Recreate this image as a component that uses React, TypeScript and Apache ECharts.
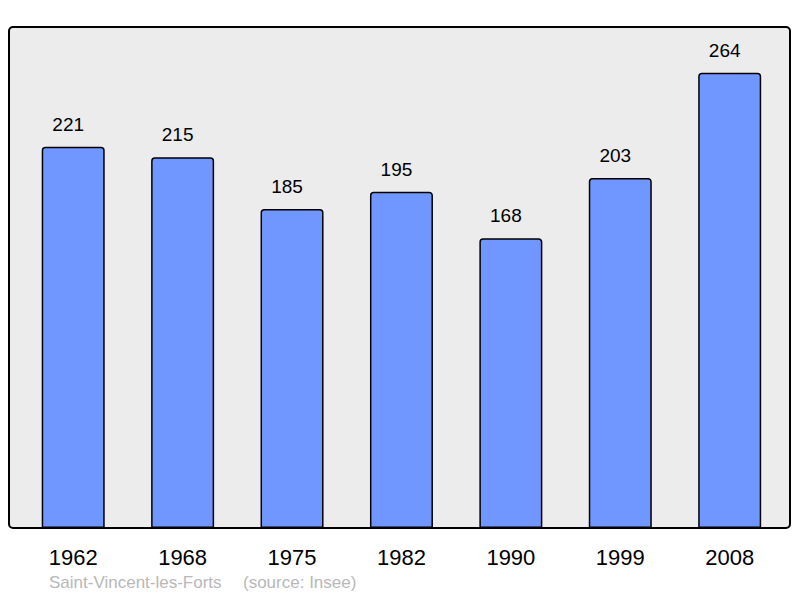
import React, { useEffect, useRef } from "react";
import * as echarts from "echarts";

const years = ["1962", "1968", "1975", "1982", "1990", "1999", "2008"];
const population = [221, 215, 185, 195, 168, 203, 264];
const footerPlace = "Saint-Vincent-les-Forts";
const footerSource = "(source: Insee)";

export default function App() {
  const ref = useRef<HTMLDivElement>(null);
  useEffect(() => {
    if (!ref.current) return;
    const chart = echarts.init(ref.current, undefined, { renderer: "svg" });
    chart.setOption({
      animation: false,
      backgroundColor: "#ffffff",
      textStyle: { fontFamily: "Liberation Sans, Arial, sans-serif" },
      grid: { left: 18.5, right: 15.6, top: 27, bottom: 70 },
      xAxis: {
        type: "category",
        data: years,
        axisLine: { show: false },
        axisTick: { show: false },
        axisLabel: { color: "#000", fontSize: 22, margin: 18 },
      },
      yAxis: {
        type: "value",
        min: 0,
        max: 290.5,
        show: false,
        splitLine: { show: false },
      },
      graphic: [
        {
          type: "rect",
          z: -10,
          shape: { x: 9, y: 27, width: 781, height: 501, r: 4 },
          style: { fill: "#ececec", stroke: "#000", lineWidth: 2 },
        },
        {
          type: "text",
          left: 49,
          top: 574,
          style: {
            text: footerPlace,
            fill: "#b8b8b8",
            font: "17px Liberation Sans, Arial, sans-serif",
          },
        },
        {
          type: "text",
          left: 243,
          top: 574,
          style: {
            text: footerSource,
            fill: "#b8b8b8",
            font: "17px Liberation Sans, Arial, sans-serif",
          },
        },
      ],
      series: [
        {
          type: "bar",
          data: population,
          barWidth: 63,
          z: 2,
          itemStyle: {
            color: "#7097ff",
            borderColor: "#000",
            borderWidth: 1.5,
            borderRadius: [3, 3, 0, 0],
          },
          label: {
            show: true,
            position: "top",
            distance: 10,
            offset: [-5, -3],
            color: "#000",
            fontSize: 19,
          },
        },
      ],
    });
    return () => chart.dispose();
  }, []);
  return <div ref={ref} style={{ width: 800, height: 598, position: "absolute", left: 0, top: 0 }} />;
}
